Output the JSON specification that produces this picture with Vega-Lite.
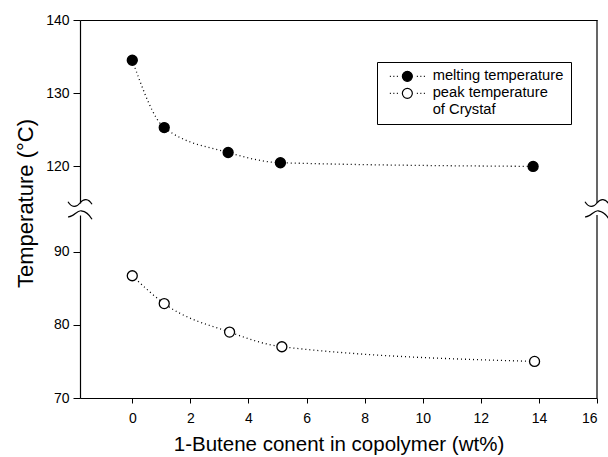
{
  "$schema": "https://vega.github.io/schema/vega-lite/v6.json",
  "background": "white",
  "padding": {"left": 14, "top": 13, "right": 5, "bottom": 5},
  "bounds": "flush",
  "config": {
    "view": {"stroke": null},
    "font": "Liberation Sans",
    "axis": {"domainColor": "black", "tickColor": "black", "labelColor": "black", "titleColor": "black", "grid": false, "labelFontSize": 14, "titleFontWeight": "normal", "tickSize": 7, "domainWidth": 1.2, "tickWidth": 1, "labelPadding": 4}
  },
  "datasets": {
    "melting": [
      {"butene": 0.0, "temp": 134.5, "series": "melting temperature"},
      {"butene": 1.1, "temp": 125.3, "series": "melting temperature"},
      {"butene": 3.3, "temp": 121.9, "series": "melting temperature"},
      {"butene": 5.1, "temp": 120.5, "series": "melting temperature"},
      {"butene": 13.8, "temp": 120.0, "series": "melting temperature"}
    ],
    "peak": [
      {"butene": 0.0, "temp": 86.7, "series": "peak temperature of Crystaf"},
      {"butene": 1.1, "temp": 82.9, "series": "peak temperature of Crystaf"},
      {"butene": 3.35, "temp": 79.0, "series": "peak temperature of Crystaf"},
      {"butene": 5.15, "temp": 77.0, "series": "peak temperature of Crystaf"},
      {"butene": 13.85, "temp": 75.0, "series": "peak temperature of Crystaf"}
    ]
  },
  "spacing": 12,
  "resolve": {"scale": {"x": "independent", "y": "independent", "fill": "shared"}, "legend": {"fill": "shared"}},
  "vconcat": [
    {
      "width": 517,
      "height": 183,
      "layer": [
        {
          "data": {"name": "melting"},
          "mark": {"type": "line", "color": "black", "strokeDash": [1, 3], "strokeWidth": 1.3, "interpolate": "monotone"},
          "encoding": {
            "x": {"field": "butene", "type": "quantitative", "scale": {"domain": [-1.8, 16], "nice": false, "zero": false}, "axis": {"orient": "top", "labels": false, "ticks": false, "title": null}},
            "y": {"field": "temp", "type": "quantitative", "scale": {"domain": [115, 140], "nice": false, "zero": false}, "axis": {"values": [120, 130, 140], "title": "Temperature (°C)", "titleY": 183, "titleFontSize": 22, "titlePadding": 8}}
          }
        },
        {
          "data": {"name": "melting"},
          "mark": {"type": "point", "filled": true, "stroke": "black", "strokeWidth": 1.3, "size": 100, "opacity": 1},
          "encoding": {
            "x": {"field": "butene", "type": "quantitative"},
            "y": {"field": "temp", "type": "quantitative"},
            "fill": {"field": "series", "type": "nominal", "scale": {"domain": ["melting temperature", "peak temperature of Crystaf"], "range": ["black", "white"]},
              "legend": {"title": null, "orient": "none", "legendX": 297, "legendY": 42, "symbolType": "M-3.5,0L-3.3,0M-2.8,0L-2.6,0M-2.1,0L-1.9,0M1.9,0L2.1,0M2.6,0L2.8,0M3.3,0L3.5,0M1,0A1,1 0 1 1 -1,0A1,1 0 1 1 1,0Z", "symbolSize": 100, "symbolOffset": 16, "symbolStrokeColor": "black", "symbolStrokeWidth": 1.2, "symbolOpacity": 1, "labelExpr": "datum.label == 'peak temperature of Crystaf' ? ['peak temperature', 'of Crystaf'] : datum.label", "strokeColor": "black", "fillColor": "white", "padding": 7, "labelFontSize": 14.7, "labelOffset": 18, "rowPadding": 1, "labelLimit": 400, "labelColor": "black"}}
          }
        },
        {
          "data": {"values": [{}]},
          "mark": {"type": "rule", "color": "black", "strokeWidth": 1.2},
          "encoding": {"x": {"datum": 16, "type": "quantitative"}}
        },
        {
          "data": {"values": [{}]},
          "mark": {"type": "point", "shape": "M-1,-0.1C-0.7,0.4,-0.3,0.4,0,0C0.3,-0.4,0.7,-0.4,1,0.1", "size": 576, "filled": false, "stroke": "black", "strokeWidth": 1.2, "opacity": 1},
          "encoding": {"x": {"datum": -1.8, "type": "quantitative"}, "y": {"datum": 115, "type": "quantitative"}}
        },
        {
          "data": {"values": [{}]},
          "mark": {"type": "point", "shape": "M-1,-0.1C-0.7,0.4,-0.3,0.4,0,0C0.3,-0.4,0.7,-0.4,1,0.1", "size": 576, "filled": false, "stroke": "black", "strokeWidth": 1.2, "opacity": 1},
          "encoding": {"x": {"datum": 16, "type": "quantitative"}, "y": {"datum": 115, "type": "quantitative"}}
        }
      ]
    },
    {
      "width": 517,
      "height": 183,
      "layer": [
        {
          "data": {"name": "peak"},
          "mark": {"type": "line", "color": "black", "strokeDash": [1, 3], "strokeWidth": 1.3, "interpolate": "monotone"},
          "encoding": {
            "x": {"field": "butene", "type": "quantitative", "scale": {"domain": [-1.8, 16], "nice": false, "zero": false}, "axis": {"values": [0, 2, 4, 6, 8, 10, 12, 14, 16], "title": "1-Butene conent in copolymer (wt%)", "titleFontSize": 20.5, "tickSize": 5, "labelPadding": 8, "titlePadding": 9}},
            "y": {"field": "temp", "type": "quantitative", "scale": {"domain": [70, 95], "nice": false, "zero": false}, "axis": {"values": [70, 80, 90], "title": null}}
          }
        },
        {
          "data": {"name": "peak"},
          "mark": {"type": "point", "filled": true, "stroke": "black", "strokeWidth": 1.3, "size": 100, "opacity": 1},
          "encoding": {
            "x": {"field": "butene", "type": "quantitative"},
            "y": {"field": "temp", "type": "quantitative"},
            "fill": {"field": "series", "type": "nominal", "scale": {"domain": ["melting temperature", "peak temperature of Crystaf"], "range": ["black", "white"]},
              "legend": {"title": null, "orient": "none", "legendX": 297, "legendY": 42, "symbolType": "M-3.5,0L-3.3,0M-2.8,0L-2.6,0M-2.1,0L-1.9,0M1.9,0L2.1,0M2.6,0L2.8,0M3.3,0L3.5,0M1,0A1,1 0 1 1 -1,0A1,1 0 1 1 1,0Z", "symbolSize": 100, "symbolOffset": 16, "symbolStrokeColor": "black", "symbolStrokeWidth": 1.2, "symbolOpacity": 1, "labelExpr": "datum.label == 'peak temperature of Crystaf' ? ['peak temperature', 'of Crystaf'] : datum.label", "strokeColor": "black", "fillColor": "white", "padding": 7, "labelFontSize": 14.7, "labelOffset": 18, "rowPadding": 1, "labelLimit": 400, "labelColor": "black"}}
          }
        },
        {
          "data": {"values": [{}]},
          "mark": {"type": "rule", "color": "black", "strokeWidth": 1.2},
          "encoding": {"x": {"datum": 16, "type": "quantitative"}}
        },
        {
          "data": {"values": [{}]},
          "mark": {"type": "point", "shape": "M-1,0.15C-0.5,0.2,-0.3,-0.4,0.1,-0.35C0.5,-0.3,0.8,0,1,0.35", "size": 576, "filled": false, "stroke": "black", "strokeWidth": 1.2, "opacity": 1},
          "encoding": {"x": {"datum": -1.8, "type": "quantitative"}, "y": {"datum": 95, "type": "quantitative"}}
        },
        {
          "data": {"values": [{}]},
          "mark": {"type": "point", "shape": "M-1,0.15C-0.5,0.2,-0.3,-0.4,0.1,-0.35C0.5,-0.3,0.8,0,1,0.35", "size": 576, "filled": false, "stroke": "black", "strokeWidth": 1.2, "opacity": 1},
          "encoding": {"x": {"datum": 16, "type": "quantitative"}, "y": {"datum": 95, "type": "quantitative"}}
        }
      ]
    }
  ]
}
